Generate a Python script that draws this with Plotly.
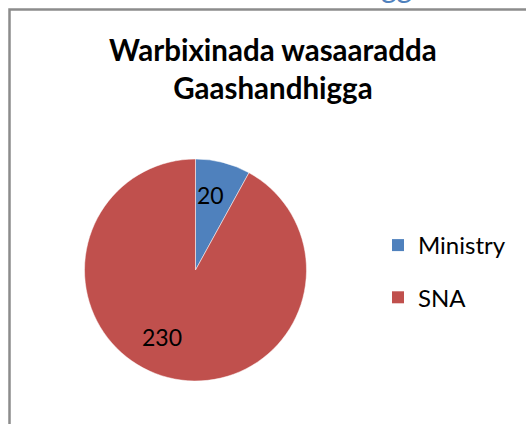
import math
import plotly.graph_objects as go

W, H = 526, 424

categories = ["Ministry", "SNA"]
values = [20, 230]
colors = ["#4F81BD", "#C0504D"]
title_lines = ["Warbixinada wasaaradda", "Gaashandhigga"]

FONT = "Lato"

cx, cy, R = 195.5, 270.0, 111.0  # pixel geometry of the pie

fig = go.Figure()
fig.add_trace(go.Pie(
    labels=categories,
    values=values,
    marker=dict(colors=colors, line=dict(color="white", width=0.5)),
    sort=False,
    direction="clockwise",
    rotation=0,
    textinfo="none",
    hoverinfo="label+value",
    showlegend=False,
    domain=dict(x=[(cx - R) / W, (cx + R) / W], y=[1 - (cy + R) / H, 1 - (cy - R) / H]),
))

# legend entries (one per category)
for i, (c, col) in enumerate(zip(categories, colors)):
    fig.add_trace(go.Scatter(
        x=[None], y=[None], mode="markers", name=c,
        marker=dict(symbol="square", size=13, color=col),
        legendgroup=c, showlegend=True, hoverinfo="skip",
    ))

# data labels computed from values (angles)
total = sum(values)
start = 0.0
annotations = []
rfrac = [0.69, 0.67]
shift = [-3.0, 12.0]
for i, v in enumerate(values):
    ang = start + v / total * 360.0
    mid = (start + ang) / 2 + shift[i]
    start = ang
    rad = math.radians(mid)
    px = cx + rfrac[i] * R * math.sin(rad)
    py = cy - rfrac[i] * R * math.cos(rad)
    annotations.append(dict(
        x=px / W, y=1 - py / H, xref="paper", yref="paper",
        text=str(v), showarrow=False,
        font=dict(family=FONT, size=23, color="black"),
        xanchor="center", yanchor="middle",
    ))

# title
annotations.append(dict(
    x=273 / W, y=1 - 68.5 / H, xref="paper", yref="paper",
    text="<b>" + "<br>".join(title_lines) + "</b>", showarrow=False,
    font=dict(family=FONT, size=29.5, color="black"),
    xanchor="center", yanchor="middle", align="center",
))

# partially visible blue text above the frame
annotations.append(dict(
    x=396 / W, y=1 + 14 / H, xref="paper", yref="paper",
    text="gg", showarrow=False,
    font=dict(family=FONT, size=30, color="#4F81BD"),
    xanchor="center", yanchor="middle",
))

fig.update_layout(
    width=W, height=H,
    margin=dict(l=0, r=0, t=0, b=0),
    paper_bgcolor="white",
    plot_bgcolor="white",
    showlegend=True,
    xaxis=dict(visible=False),
    yaxis=dict(visible=False),
    legend=dict(
        x=378 / W, y=1 - 223 / H, xanchor="left", yanchor="top",
        font=dict(family=FONT, size=24, color="black"),
        itemsizing="constant", tracegroupgap=18,
        bgcolor="rgba(0,0,0,0)",
    ),
    annotations=annotations,
    shapes=[dict(
        type="rect", xref="paper", yref="paper",
        x0=9.5 / W, x1=1.2, y0=-0.2, y1=1 - 9.5 / H,
        line=dict(color="#8C8C8C", width=2.5),
        fillcolor="rgba(0,0,0,0)", layer="below",
    )],
)

fig.write_html(
    "out.html",
    config={"displayModeBar": False},
    post_script="document.body.style.margin='0';document.body.style.overflow='hidden';",
)
